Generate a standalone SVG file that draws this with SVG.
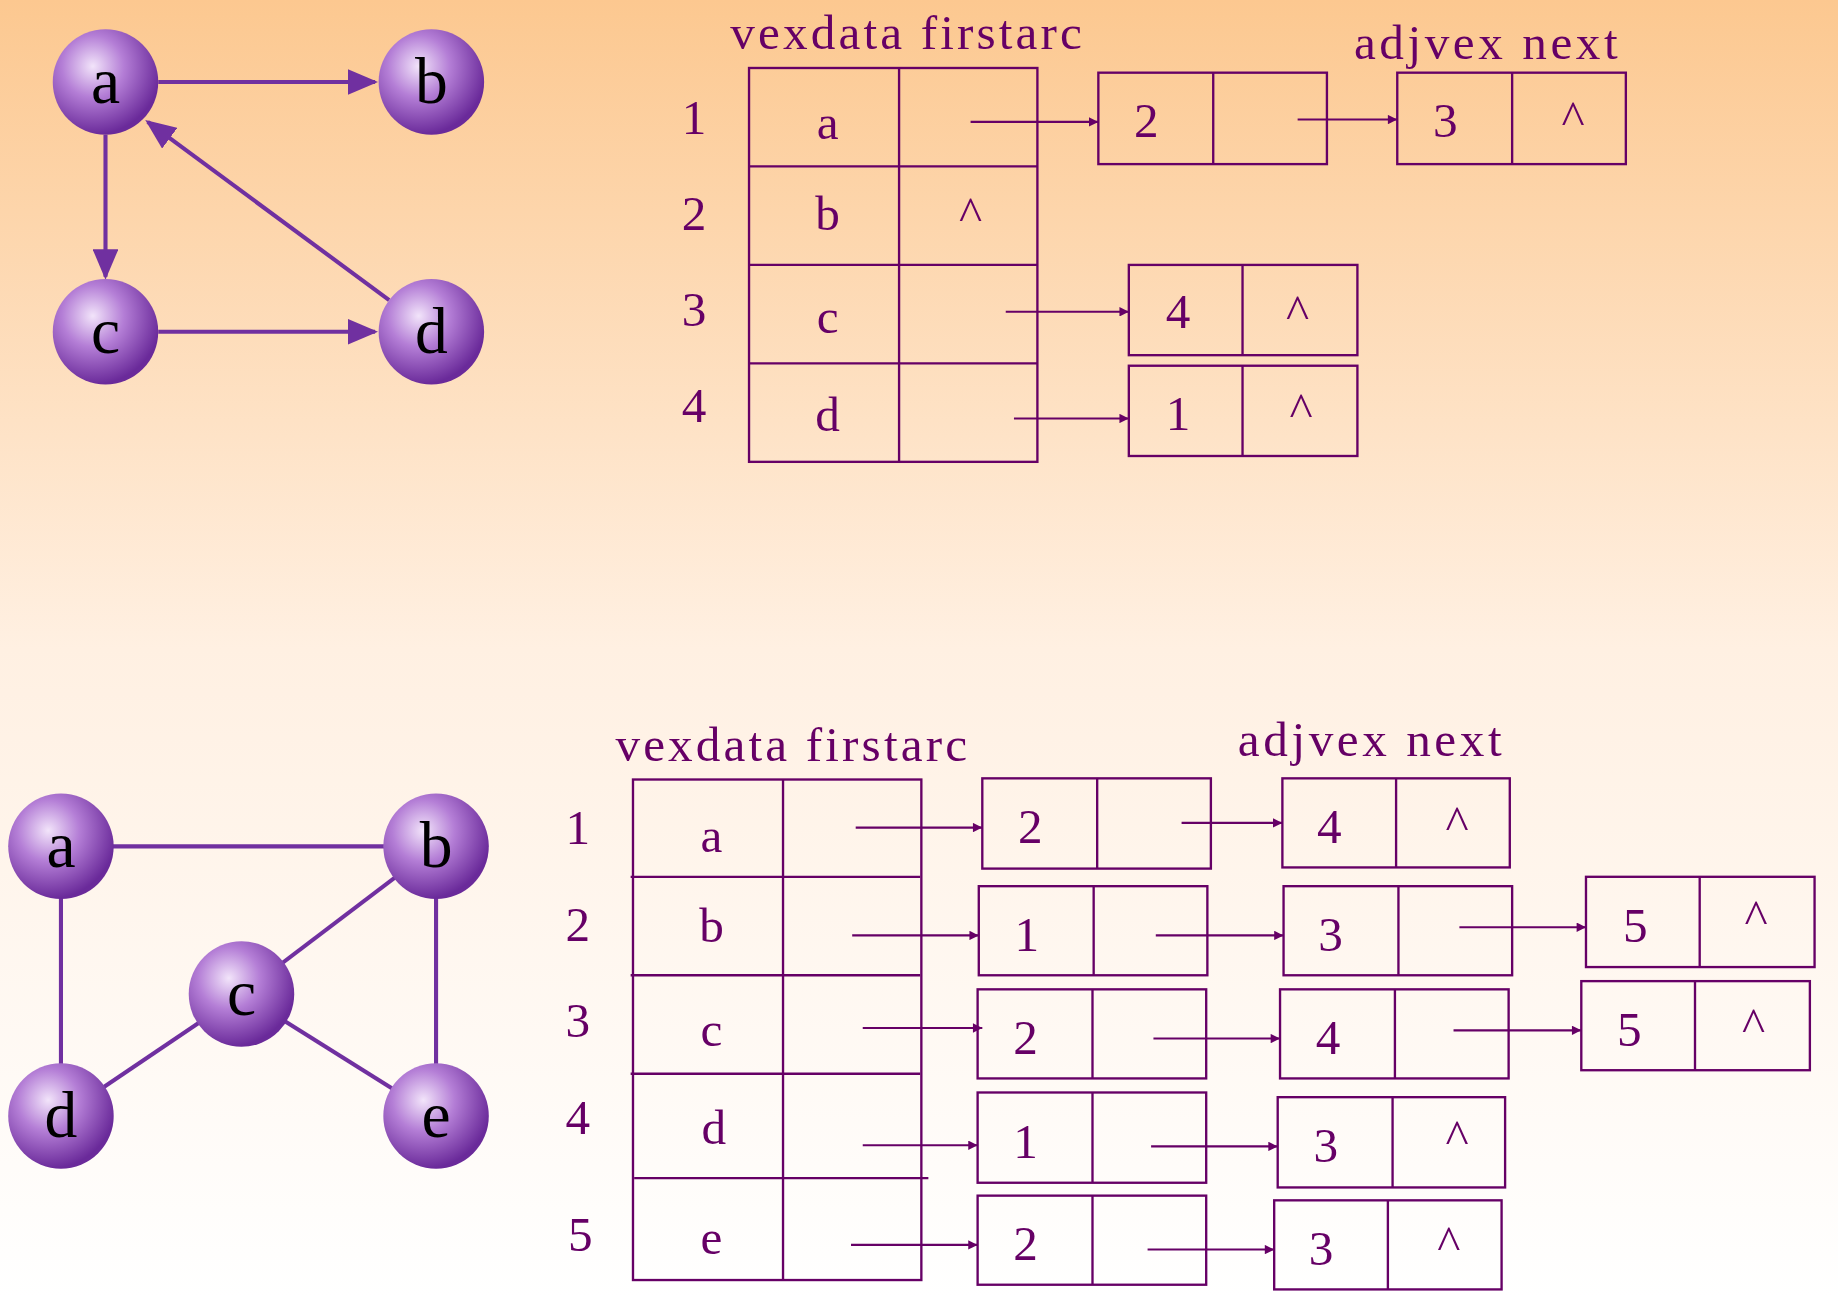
<svg xmlns="http://www.w3.org/2000/svg" width="1838" height="1298" viewBox="0 0 1838 1298">
<defs>
<linearGradient id="bg" x1="0" y1="0" x2="0" y2="1">
<stop offset="0" stop-color="#fcc890"/><stop offset="0.5" stop-color="#fff0e2"/><stop offset="1" stop-color="#ffffff"/>
</linearGradient>
<radialGradient id="ball" cx="0.38" cy="0.35" r="0.65">
<stop offset="0" stop-color="#f2e4fa"/><stop offset="0.45" stop-color="#b47ed6"/><stop offset="1" stop-color="#6a2a9a"/>
</radialGradient>
<marker id="ah" viewBox="0 0 10 10" refX="10" refY="5" markerWidth="10" markerHeight="8" markerUnits="userSpaceOnUse" orient="auto"><path d="M0,0 L10,5 L0,10z" fill="#660066"/></marker>
<marker id="gh" viewBox="0 0 10 10" refX="9" refY="5" markerWidth="26" markerHeight="22" orient="auto" markerUnits="userSpaceOnUse" preserveAspectRatio="none"><path d="M0,0 L10,5 L0,10z" fill="#7030a0"/></marker>
<style>
.n circle{fill:url(#ball)}
.n text{font-family:"Liberation Serif",serif;font-size:56px;text-anchor:middle;fill:#000}
.g{stroke:#7030a0;stroke-width:3.5;fill:none}
.t{font-family:"Liberation Serif",serif;font-size:42px;fill:#660066;text-anchor:middle}
.h{font-family:"Liberation Serif",serif;font-size:42px;fill:#660066}
.b{fill:none;stroke:#660066;stroke-width:2}
.a{stroke:#660066;stroke-width:1.8;fill:none;marker-end:url(#ah)}
</style>
</defs>
<rect width="1838" height="1298" fill="url(#bg)"/>
<g transform="scale(1.1722)">
<g id="edges1">
<line class="g" x1="135" y1="70" x2="320" y2="70" marker-end="url(#gh)"/>
<line class="g" x1="90" y1="115" x2="90" y2="236" marker-end="url(#gh)"/>
<line class="g" x1="135" y1="283" x2="320" y2="283" marker-end="url(#gh)"/>
<line class="g" x1="332" y1="256" x2="126" y2="104" marker-end="url(#gh)"/>
</g>
<g id="edges2">
<line class="g" x1="52" y1="722" x2="372" y2="722"/>
<line class="g" x1="52" y1="722" x2="52" y2="952"/>
<line class="g" x1="372" y1="722" x2="206" y2="848"/>
<line class="g" x1="372" y1="722" x2="372" y2="952"/>
<line class="g" x1="206" y1="848" x2="52" y2="952"/>
<line class="g" x1="206" y1="848" x2="372" y2="952"/>
</g>
<g id="n1a" class="n"><circle cx="90" cy="70" r="45"/><text x="90" y="88">a</text></g>
<g id="n1b" class="n"><circle cx="368" cy="70" r="45"/><text x="368" y="88">b</text></g>
<g id="n1c" class="n"><circle cx="90" cy="283" r="45"/><text x="90" y="301">c</text></g>
<g id="n1d" class="n"><circle cx="368" cy="283" r="45"/><text x="368" y="301">d</text></g>
<g id="n2a" class="n"><circle cx="52" cy="722" r="45"/><text x="52" y="740">a</text></g>
<g id="n2b" class="n"><circle cx="372" cy="722" r="45"/><text x="372" y="740">b</text></g>
<g id="n2c" class="n"><circle cx="206" cy="848" r="45"/><text x="206" y="866">c</text></g>
<g id="n2d" class="n"><circle cx="52" cy="952" r="45"/><text x="52" y="970">d</text></g>
<g id="n2e" class="n"><circle cx="372" cy="952" r="45"/><text x="372" y="970">e</text></g>

<g id="table1">
<text class="h" x="623" y="42" textLength="300" lengthAdjust="spacing">vexdata firstarc</text>
<text class="h" x="1155" y="50" textLength="225" lengthAdjust="spacing">adjvex next</text>
<rect class="b" x="639" y="58" width="246" height="336"/>
<line class="b" x1="767" y1="58" x2="767" y2="394"/>
<line class="b" x1="639" y1="142" x2="885" y2="142"/>
<line class="b" x1="639" y1="226" x2="885" y2="226"/>
<line class="b" x1="639" y1="310" x2="885" y2="310"/>
<text class="t" x="592" y="114">1</text><text class="t" x="592" y="196">2</text><text class="t" x="592" y="278">3</text><text class="t" x="592" y="360">4</text>
<text class="t" x="706" y="119">a</text><text class="t" x="706" y="196">b</text><text class="t" x="706" y="284">c</text><text class="t" x="706" y="368">d</text>
<text class="t" x="828" y="196">^</text>
</g>
<g id="list1">
<line class="a" x1="828" y1="104" x2="937" y2="104"/>
<rect class="b" x="937" y="62" width="195" height="78"/><line class="b" x1="1035" y1="62" x2="1035" y2="140"/><text class="t" x="978" y="117">2</text>
<line class="a" x1="1107" y1="102" x2="1192" y2="102"/>
<rect class="b" x="1192" y="62" width="195" height="78"/><line class="b" x1="1290" y1="62" x2="1290" y2="140"/><text class="t" x="1233" y="117">3</text><text class="t" x="1342" y="114">^</text>
<line class="a" x1="858" y1="266" x2="963" y2="266"/>
<rect class="b" x="963" y="226" width="195" height="77"/><line class="b" x1="1060" y1="226" x2="1060" y2="303"/><text class="t" x="1005" y="280">4</text><text class="t" x="1107" y="280">^</text>
<line class="a" x1="865" y1="357" x2="963" y2="357"/>
<rect class="b" x="963" y="312" width="195" height="77"/><line class="b" x1="1060" y1="312" x2="1060" y2="389"/><text class="t" x="1005" y="367">1</text><text class="t" x="1110" y="363">^</text>
</g>

<g id="table2">
<text class="h" x="525" y="649" textLength="300" lengthAdjust="spacing">vexdata firstarc</text>
<text class="h" x="1056" y="645" textLength="225" lengthAdjust="spacing">adjvex next</text>
<rect class="b" x="540" y="665" width="246" height="427"/>
<line class="b" x1="668" y1="665" x2="668" y2="1092"/>
<line class="b" x1="538" y1="748" x2="785" y2="748"/>
<line class="b" x1="538" y1="832" x2="785" y2="832"/>
<line class="b" x1="538" y1="916" x2="785" y2="916"/>
<line class="b" x1="541" y1="1005" x2="792" y2="1005"/>
<text class="t" x="493" y="720">1</text><text class="t" x="493" y="803">2</text><text class="t" x="493" y="885">3</text><text class="t" x="493" y="967">4</text><text class="t" x="495" y="1067">5</text>
<text class="t" x="607" y="727">a</text><text class="t" x="607" y="804">b</text><text class="t" x="607" y="892">c</text><text class="t" x="609" y="976">d</text><text class="t" x="607" y="1070">e</text>
</g>
<g id="list2">
<line class="a" x1="730" y1="706" x2="838" y2="706"/>
<rect class="b" x="838" y="664" width="195" height="77"/><line class="b" x1="936" y1="664" x2="936" y2="741"/><text class="t" x="879" y="719">2</text>
<line class="a" x1="1008" y1="702" x2="1094" y2="702"/>
<rect class="b" x="1094" y="664" width="194" height="76"/><line class="b" x1="1191" y1="664" x2="1191" y2="740"/><text class="t" x="1134" y="719">4</text><text class="t" x="1243" y="716">^</text>

<line class="a" x1="727" y1="798" x2="835" y2="798"/>
<rect class="b" x="835" y="756" width="195" height="76"/><line class="b" x1="933" y1="756" x2="933" y2="832"/><text class="t" x="876" y="811">1</text>
<line class="a" x1="986" y1="798" x2="1095" y2="798"/>
<rect class="b" x="1095" y="756" width="195" height="76"/><line class="b" x1="1193" y1="756" x2="1193" y2="832"/><text class="t" x="1135" y="811">3</text>
<line class="a" x1="1245" y1="791" x2="1353" y2="791"/>
<rect class="b" x="1353" y="748" width="195" height="77"/><line class="b" x1="1450" y1="748" x2="1450" y2="825"/><text class="t" x="1395" y="804">5</text><text class="t" x="1498" y="796">^</text>

<line class="a" x1="736" y1="877" x2="838" y2="877"/>
<rect class="b" x="834" y="844" width="195" height="76"/><line class="b" x1="932" y1="844" x2="932" y2="920"/><text class="t" x="875" y="899">2</text>
<line class="a" x1="984" y1="886" x2="1092" y2="886"/>
<rect class="b" x="1092" y="844" width="195" height="76"/><line class="b" x1="1190" y1="844" x2="1190" y2="920"/><text class="t" x="1133" y="899">4</text>
<line class="a" x1="1240" y1="879" x2="1349" y2="879"/>
<rect class="b" x="1349" y="837" width="195" height="76"/><line class="b" x1="1446" y1="837" x2="1446" y2="913"/><text class="t" x="1390" y="892">5</text><text class="t" x="1496" y="888">^</text>

<line class="a" x1="736" y1="977" x2="834" y2="977"/>
<rect class="b" x="834" y="932" width="195" height="77"/><line class="b" x1="932" y1="932" x2="932" y2="1009"/><text class="t" x="875" y="988">1</text>
<line class="a" x1="982" y1="978" x2="1090" y2="978"/>
<rect class="b" x="1090" y="936" width="194" height="77"/><line class="b" x1="1188" y1="936" x2="1188" y2="1013"/><text class="t" x="1131" y="991">3</text><text class="t" x="1243" y="984">^</text>

<line class="a" x1="726" y1="1062" x2="834" y2="1062"/>
<rect class="b" x="834" y="1020" width="195" height="76"/><line class="b" x1="932" y1="1020" x2="932" y2="1096"/><text class="t" x="875" y="1075">2</text>
<line class="a" x1="979" y1="1066" x2="1087" y2="1066"/>
<rect class="b" x="1087" y="1024" width="194" height="76"/><line class="b" x1="1184" y1="1024" x2="1184" y2="1100"/><text class="t" x="1127" y="1079">3</text><text class="t" x="1236" y="1074">^</text>
</g>
</g>
</svg>
